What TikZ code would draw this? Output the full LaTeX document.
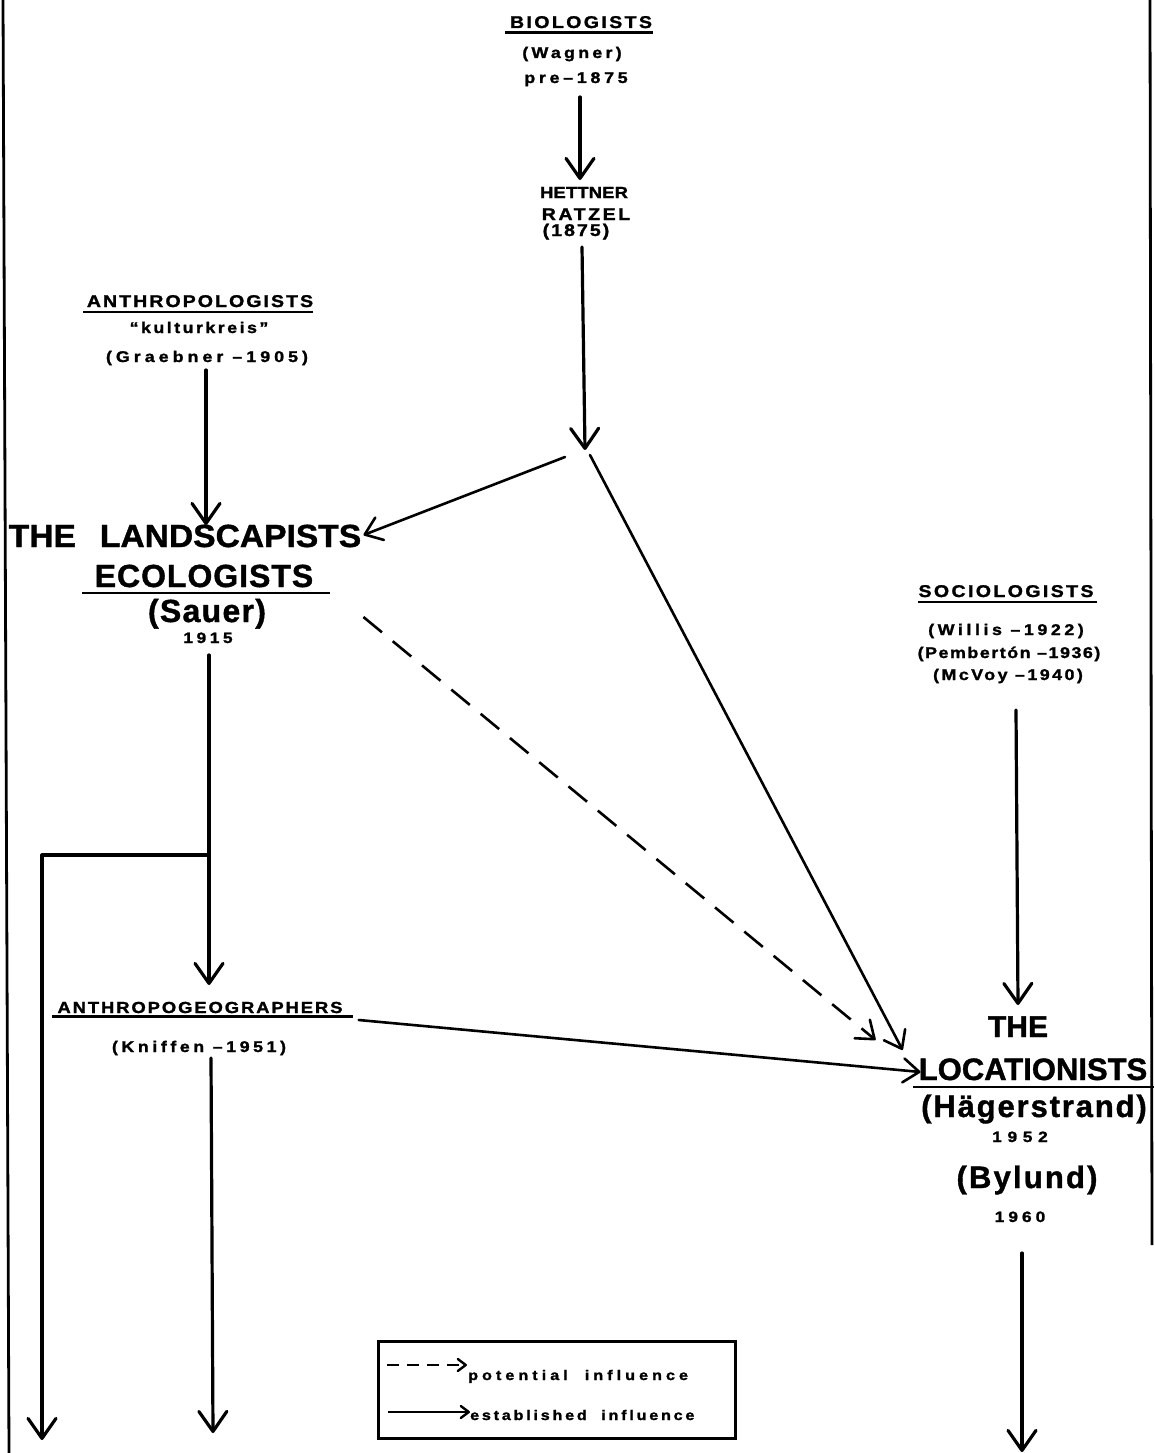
\documentclass[tikz,border=0pt]{standalone}
\usepackage{fontspec}
\setmainfont{Liberation Sans}
\usetikzlibrary{arrows.meta}
\begin{document}
\begin{tikzpicture}[x=1pt,y=-1pt,
  lbl/.style 2 args={font=\bfseries\fontsize{#1}{#1}\selectfont\addfontfeature{LetterSpace=#2,FakeStretch=1.15,FakeBold=1.5}, inner sep=0pt, anchor=base},
  big/.style 2 args={font=\bfseries\fontsize{#1}{#1}\selectfont\addfontfeature{LetterSpace=#2,FakeBold=1.2}, inner sep=0pt, anchor=base},
  conn/.style={line width=3.2pt, line cap=round, line join=round, -{Straight Barb[round,length=20pt,width=28pt]}},
  slant/.style={line width=2.6pt, line cap=round, -{Straight Barb[round,length=16pt,width=24pt]}},
  potential/.style={line width=2.6pt, dash pattern=on 24pt off 14pt, -{Straight Barb[round,length=16pt,width=24pt]}},
  keyarrow/.style={line width=2.4pt, -{Straight Barb[round,length=8pt,width=12pt]}},
  rule/.style={line width=2.3pt},
  border/.style={line width=2.8pt},
]
\useasboundingbox[fill=white] (0,0) rectangle (1154,1453);

% frame lines
\draw[border] (3,0) -- (9,1453);
\draw[border] (1150,0) -- (1152,1245);

% --- top: biologists and Hettner/Ratzel
\node[lbl={17}{14}] (bio) at (581,28) {BIOLOGISTS};
\draw[rule] (505,32.5) -- (653,32.5);
\node[lbl={15.5}{21}] (wagner) at (572,58) {(Wagner)};
\node[lbl={15.5}{24}] (pre) at (576,83) {pre–1875};
\node[lbl={16}{1}] (hett) at (584,198) {HETTNER};
\node[lbl={17}{15}] (ratzel) at (586,220) {RATZEL};
\node[lbl={17}{12}] (y1875) at (576,236) {(1875)};
\coordinate (J) at (585,450);

% --- anthropologists
\node[lbl={17}{12}] (anthro) at (200,307) {ANTHROPOLOGISTS};
\draw[rule] (83,312) -- (313,312);
\node[lbl={15.5}{16}] (kultur) at (199,333) {“kulturkreis”};
\node[lbl={15.5}{26}] (graeb) at (207,362) {(Graebner –1905)};

% --- landscapists
\node[big={32}{0}, font=\bfseries\fontsize{32}{32}\selectfont\addfontfeature{FakeStretch=1.05,FakeBold=1.2}] (land) at (185,547) {THE\hspace{24pt}LANDSCAPISTS};
\node[big={32}{3}] (ecol) at (204,587) {ECOLOGISTS};
\draw[rule] (82,593) -- (330,593);
\node[big={32}{4}] (sauer) at (207,622) {(Sauer)};
\node[lbl={15}{24}] (y1915) at (208,643) {1915};
\coordinate (B) at (209,855);
\coordinate (L) at (42,1440);

% --- sociologists
\node[lbl={17}{14}] (socio) at (1006,597) {SOCIOLOGISTS};
\draw[rule] (918,602) -- (1097,602);
\node[lbl={15.5}{23}] (willis) at (1006,635) {(Willis –1922)};
\node[lbl={15.5}{10}] (pemb) at (1009,658) {(Pembertón –1936)};
\node[lbl={15.5}{16}] (mcvoy) at (1008,680) {(McVoy –1940)};

% --- locationists
\node[big={30}{0}] (the) at (1018,1037) {THE};
\node[big={31}{0}] (locn) at (1033,1080) {LOCATIONISTS};
\draw[rule] (913,1087) -- (1154,1087);
\node[big={31}{6}] (hager) at (1034,1117) {(Hägerstrand)};
\node[lbl={15}{38}] (y1952) at (1020,1142) {1952};
\node[big={31}{7}] (bylund) at (1027,1188) {(Bylund)};
\node[lbl={15}{27}] (y1960) at (1020,1222) {1960};
\coordinate (E) at (1022,1452);

% --- anthropogeographers
\node[lbl={16}{12}] (ageo) at (200,1013) {ANTHROPOGEOGRAPHERS};
\draw[rule] (52,1016.5) -- (353,1016.5);
\node[lbl={15.5}{23}] (kniff) at (199,1052) {(Kniffen –1951)};
\coordinate (K) at (213,1433);

% --- connectors
\draw[conn] ([xshift=4pt,yshift=-14pt]pre.base) -- ([xshift=-4pt,yshift=18pt]hett.base);
\draw[conn] ([xshift=6pt,yshift=-11pt]y1875.base) -- (J);
\draw[slant] ([xshift=-20pt,yshift=-7pt]J) -- ([xshift=2pt,yshift=12pt]land.base east);
\draw[slant] ([xshift=5pt,yshift=-5pt]J) -- ([xshift=-16pt,yshift=30pt]locn.base west);
\draw[potential] ([xshift=50pt,yshift=-30pt]ecol.base east) -- ([xshift=-43pt,yshift=40pt]locn.base west);
\draw[conn] ([xshift=-1pt,yshift=-8pt]graeb.base) -- ([xshift=21pt,yshift=22pt]land.base);
\draw[conn] ([xshift=1pt,yshift=-12pt]y1915.base) -- (B) -- ([xshift=9pt,yshift=28pt]ageo.base);
\draw[conn] (B) -| (L);
\draw[conn] ([xshift=12pt,yshift=-6pt]kniff.base) -- (K);
\draw[slant] ([xshift=16pt,yshift=-7pt]ageo.base east) -- ([xshift=2pt,yshift=8pt]locn.base west);
\draw[conn] ([xshift=8pt,yshift=-30pt]mcvoy.base) -- ([yshift=32pt]the.base);
\draw[conn] ([xshift=2pt,yshift=-31pt]y1960.base) -- (E);

% --- key
\node[draw, line width=2.5pt, inner sep=0pt, minimum width=357pt, minimum height=97pt, anchor=north west] (key) at (377,1340) {};
\node[lbl={14}{29}, anchor=base west] (pot) at (468,1380) {potential\ \ influence};
\node[lbl={14}{20}, anchor=base west] (est) at (470,1420) {established\ \ influence};
\coordinate (k1) at (387,1365);
\coordinate (k2) at (388,1412);
\draw[keyarrow, dash pattern=on 12pt off 8pt] (k1) -- ([xshift=-1pt,yshift=15pt]pot.base west);
\draw[keyarrow] (k2) -- ([yshift=8pt]est.base west);
\end{tikzpicture}
\end{document}
